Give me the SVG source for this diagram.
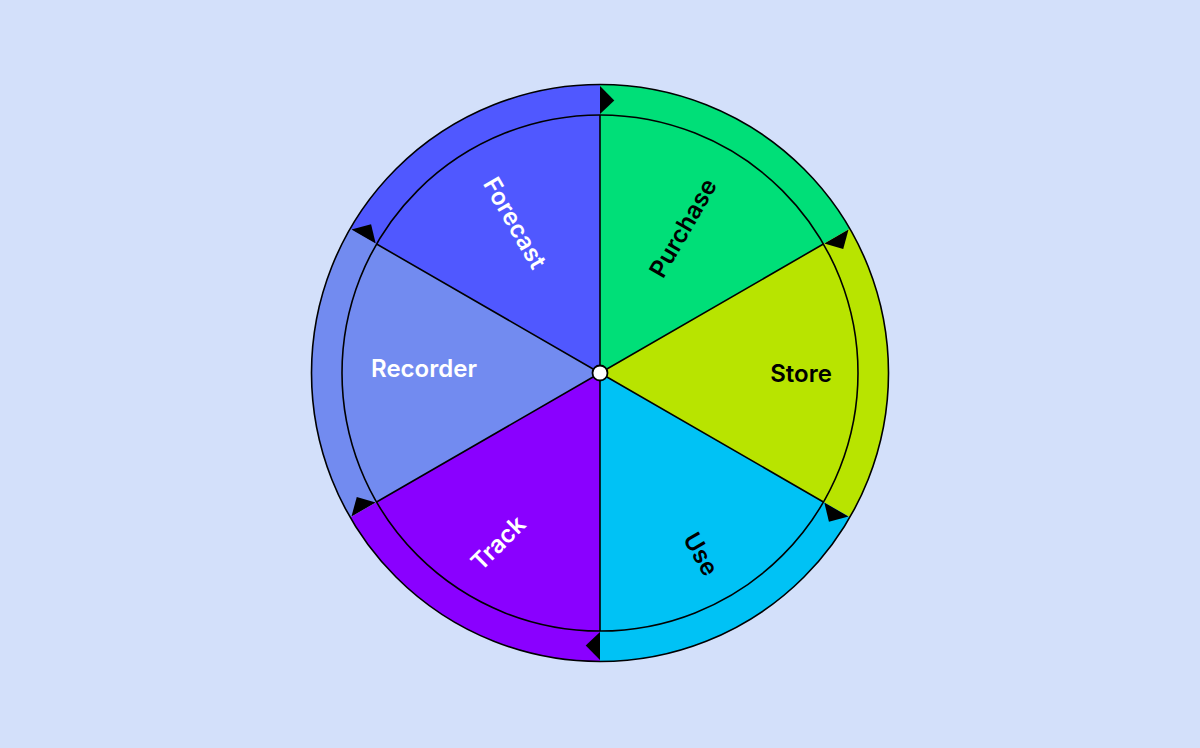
<svg xmlns="http://www.w3.org/2000/svg" xmlns:xlink="http://www.w3.org/1999/xlink" width="1200" height="748" viewBox="0 0 1200 748">
  <style>
    .lbl { font-family: Inter, "Liberation Sans", sans-serif; font-size: 24px; font-weight: 600; text-anchor: middle; dominant-baseline: central; }
    .w { fill: #ffffff; }
    .k { fill: #000000; }
    .line { stroke: #000; stroke-width: 1.6; fill: none; }
  </style>
  <defs>
    <polygon id="arr" points="600,86 600,114 614.3,100.4" fill="#000"/>
  </defs>
  <rect width="1200" height="748" fill="#D3E0FA"/>

  <g id="node-purchase">
    <path d="M600,373 L600,84.5 A288.5,288.5 0 0 1 849.85,228.75 Z" fill="#00DF78"/>
    <text class="lbl k" transform="translate(683,228) rotate(-60)">Purchase</text>
  </g>
  <g id="node-store">
    <path d="M600,373 L849.85,228.75 A288.5,288.5 0 0 1 849.85,517.25 Z" fill="#B8E400"/>
    <text class="lbl k" transform="translate(801,373)">Store</text>
  </g>
  <g id="node-use">
    <path d="M600,373 L849.85,517.25 A288.5,288.5 0 0 1 600,661.5 Z" fill="#00C2F5"/>
    <text class="lbl k" transform="translate(701,554) rotate(60)">Use</text>
  </g>
  <g id="node-track">
    <path d="M600,373 L600,661.5 A288.5,288.5 0 0 1 350.15,517.25 Z" fill="#8A00FF"/>
    <text class="lbl w" transform="translate(498,543) rotate(-45)">Track</text>
  </g>
  <g id="node-recorder">
    <path d="M600,373 L350.15,517.25 A288.5,288.5 0 0 1 350.15,228.75 Z" fill="#728BF0"/>
    <text class="lbl w" transform="translate(424,368)">Recorder</text>
  </g>
  <g id="node-forecast">
    <path d="M600,373 L350.15,228.75 A288.5,288.5 0 0 1 600,84.5 Z" fill="#5058FF"/>
    <text class="lbl w" transform="translate(515,223) rotate(60)">Forecast</text>
  </g>

  <g id="connectors">
    <circle class="line" cx="600" cy="373" r="288.5" stroke-width="2"/>
    <circle class="line" cx="600" cy="373" r="258"/>
    <path class="line" d="M600,373 L600,115 M600,373 L823.43,244 M600,373 L823.43,502 M600,373 L600,631 M600,373 L376.57,502 M600,373 L376.57,244"/>
    <use xlink:href="#arr" href="#arr"/>
    <use xlink:href="#arr" href="#arr" transform="rotate(60 600 373)"/>
    <use xlink:href="#arr" href="#arr" transform="rotate(120 600 373)"/>
    <use xlink:href="#arr" href="#arr" transform="rotate(180 600 373)"/>
    <use xlink:href="#arr" href="#arr" transform="rotate(240 600 373)"/>
    <use xlink:href="#arr" href="#arr" transform="rotate(300 600 373)"/>
  </g>

  <g id="node-center">
    <circle cx="600" cy="373" r="7.5" fill="#ffffff" stroke="#000" stroke-width="1.8"/>
  </g>
</svg>
